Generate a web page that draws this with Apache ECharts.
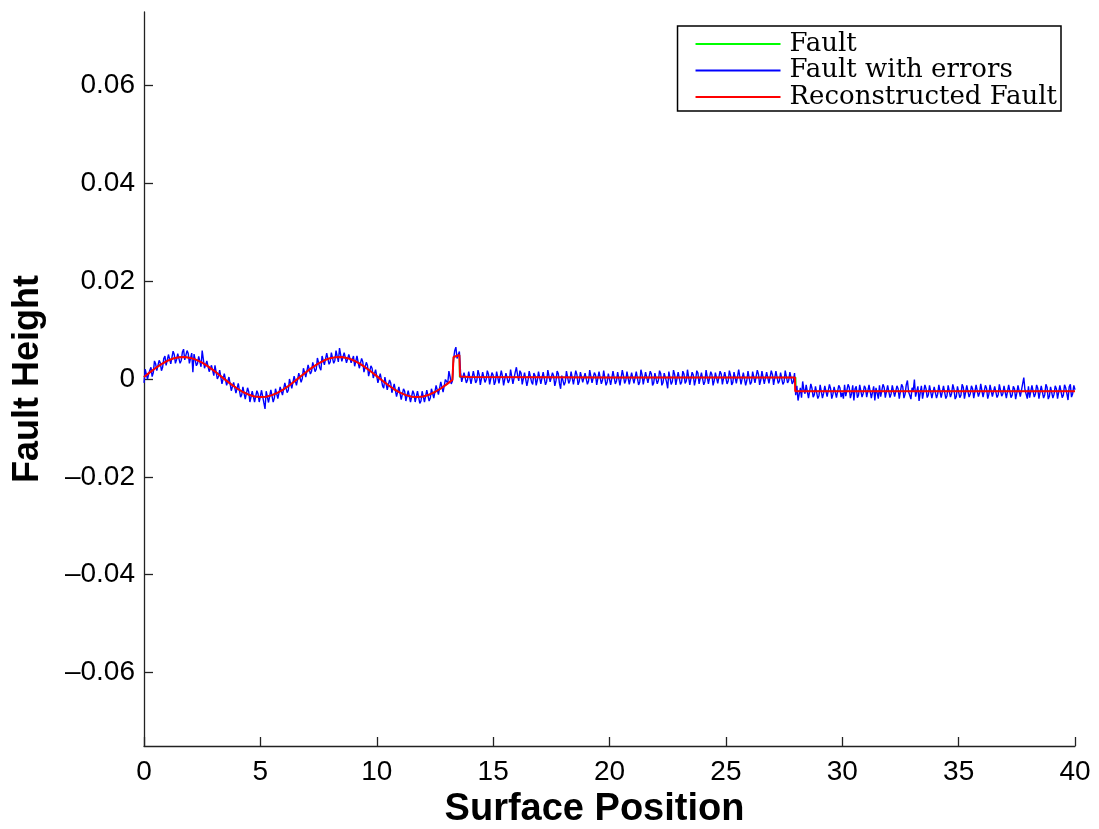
<!DOCTYPE html>
<html><head><meta charset="utf-8">
<script src="https://cdn.jsdelivr.net/npm/echarts@6/dist/echarts.min.js"></script>
<style>html,body{margin:0;padding:0;background:#fff}#c{width:1099px;height:829px}</style>
</head><body><div id="c"></div>
<script>
// y tick labels
const yTickValues = [-0.06, -0.04, -0.02, 0, 0.02, 0.04, 0.06];
// measured signal ("Fault with errors"), sampled every 0.05 along x from 0 to 40
const sampleStep = 0.05;
const faultWithErrors = [
-8e-4,20e-4,23e-4,0,10e-4,18e-4,24e-4,5e-4,13e-4,37e-4,31e-4,17e-4,16e-4,38e-4,33e-4,17e-4,24e-4,42e-4,47e-4,28e-4,
31e-4,50e-4,48e-4,31e-4,30e-4,57e-4,50e-4,32e-4,40e-4,52e-4,56e-4,32e-4,38e-4,55e-4,61e-4,39e-4,40e-4,58e-4,52e-4,32e-4,
33e-4,53e-4,14e-4,51e-4,49e-4,27e-4,32e-4,46e-4,42e-4,25e-4,58e-4,40e-4,22e-4,18e-4,37e-4,38e-4,15e-4,13e-4,28e-4,29e-4,
7e-4,28e-4,26e-4,0,5e-4,18e-4,14e-4,-10e-4,-10e-4,11e-4,8e-4,-13e-4,-13e-4,4e-4,0,-24e-4,-24e-4,-7e-4,-10e-4,-29e-4,
-28e-4,-9e-4,-11e-4,-37e-4,-32e-4,-16e-4,-20e-4,-41e-4,-43e-4,-18e-4,-26e-4,-47e-4,-51e-4,-25e-4,-26e-4,-47e-4,-50e-4,-24e-4,-30e-4,-47e-4,
-46e-4,-23e-4,-27e-4,-49e-4,-61e-4,-25e-4,-28e-4,-48e-4,-45e-4,-22e-4,-22e-4,-47e-4,-39e-4,-20e-4,-20e-4,-40e-4,-38e-4,-16e-4,-17e-4,-33e-4,
-30e-4,-8e-4,-6e-4,-28e-4,-23e-4,0,-1e-4,-19e-4,-19e-4,6e-4,5e-4,-13e-4,-10e-4,12e-4,16e-4,-7e-4,1e-4,22e-4,22e-4,4e-4,
7e-4,29e-4,28e-4,10e-4,16e-4,34e-4,36e-4,15e-4,20e-4,43e-4,40e-4,23e-4,18e-4,47e-4,47e-4,29e-4,32e-4,53e-4,52e-4,30e-4,
35e-4,54e-4,54e-4,32e-4,38e-4,58e-4,54e-4,35e-4,63e-4,59e-4,36e-4,34e-4,54e-4,53e-4,33e-4,31e-4,50e-4,53e-4,33e-4,29e-4,
47e-4,26e-4,27e-4,47e-4,43e-4,22e-4,22e-4,42e-4,35e-4,14e-4,10e-4,34e-4,28e-4,6e-4,5e-4,27e-4,22e-4,2e-4,-1e-4,19e-4,
16e-4,-8e-4,-10e-4,11e-4,7e-4,-14e-4,-19e-4,4e-4,3e-4,-22e-4,-23e-4,-2e-4,-8e-4,-28e-4,-30e-4,-10e-4,-13e-4,-36e-4,-37e-4,-16e-4,
-20e-4,-42e-4,-42e-4,-20e-4,-25e-4,-45e-4,-45e-4,-24e-4,-27e-4,-47e-4,-46e-4,-24e-4,-30e-4,-47e-4,-47e-4,-25e-4,-29e-4,-50e-4,-45e-4,-25e-4,
-28e-4,-47e-4,-45e-4,-23e-4,-24e-4,-45e-4,-39e-4,-20e-4,-19e-4,-39e-4,-35e-4,-13e-4,-13e-4,-32e-4,-29e-4,-6e-4,-6e-4,-27e-4,-24e-4,-1e-4,
0,-9e-4,16e-4,5e-4,-10e-4,-4e-4,40e-4,58e-4,65e-4,42e-4,45e-4,56e-4,14e-4,-6e-4,-5e-4,13e-4,16e-4,-8e-4,-2e-4,15e-4,
12e-4,-10e-4,-6e-4,16e-4,15e-4,-8e-4,-3e-4,18e-4,9e-4,-12e-4,-8e-4,14e-4,13e-4,-7e-4,-1e-4,17e-4,10e-4,-11e-4,-9e-4,13e-4,
8e-4,-12e-4,-5e-4,15e-4,14e-4,-9e-4,-7e-4,17e-4,6e-4,-13e-4,-10e-4,12e-4,11e-4,-8e-4,-2e-4,19e-4,16e-4,-10e-4,-6e-4,14e-4,
24e-4,8e-4,-4e-4,17e-4,12e-4,-11e-4,-8e-4,13e-4,9e-4,-14e-4,-3e-4,16e-4,14e-4,-6e-4,-11e-4,12e-4,7e-4,-13e-4,-2e-4,15e-4,
13e-4,-10e-4,-7e-4,14e-4,10e-4,-12e-4,-5e-4,18e-4,15e-4,-6e-4,-9e-4,13e-4,6e-4,-14e-4,-4e-4,16e-4,11e-4,-9e-4,-20e-4,7e-4,
8e-4,-13e-4,-6e-4,16e-4,12e-4,-9e-4,-3e-4,15e-4,14e-4,-11e-4,-8e-4,17e-4,9e-4,-12e-4,-5e-4,14e-4,13e-4,-7e-4,-9e-4,12e-4,
10e-4,-11e-4,-4e-4,18e-4,16e-4,-8e-4,-7e-4,13e-4,8e-4,-12e-4,-10e-4,15e-4,12e-4,-10e-4,-2e-4,17e-4,15e-4,-13e-4,-6e-4,11e-4,
9e-4,-12e-4,-8e-4,16e-4,13e-4,-10e-4,-4e-4,14e-4,11e-4,-13e-4,-9e-4,18e-4,7e-4,-9e-4,-3e-4,15e-4,14e-4,-11e-4,-7e-4,13e-4,
12e-4,-9e-4,-5e-4,15e-4,17e-4,-12e-4,-6e-4,19e-4,9e-4,-11e-4,-10e-4,14e-4,13e-4,-8e-4,-4e-4,16e-4,10e-4,-13e-4,-8e-4,12e-4,
14e-4,-10e-4,-3e-4,17e-4,11e-4,-13e-4,-7e-4,12e-4,16e-4,-6e-4,-19e-4,15e-4,12e-4,-11e-4,-5e-4,18e-4,9e-4,-12e-4,-8e-4,14e-4,
13e-4,-11e-4,-6e-4,16e-4,10e-4,-9e-4,-4e-4,19e-4,15e-4,-12e-4,-9e-4,14e-4,8e-4,-13e-4,-2e-4,17e-4,12e-4,-10e-4,-7e-4,13e-4,
11e-4,-12e-4,-5e-4,18e-4,14e-4,-10e-4,-8e-4,15e-4,9e-4,-13e-4,-3e-4,13e-4,16e-4,-9e-4,-6e-4,16e-4,10e-4,-11e-4,-9e-4,14e-4,
13e-4,-10e-4,-4e-4,17e-4,8e-4,-12e-4,-7e-4,14e-4,12e-4,-9e-4,-5e-4,19e-4,15e-4,-11e-4,-8e-4,13e-4,9e-4,-13e-4,-3e-4,16e-4,
14e-4,-11e-4,-6e-4,15e-4,11e-4,-8e-4,-9e-4,18e-4,10e-4,-12e-4,-2e-4,16e-4,13e-4,-10e-4,-7e-4,14e-4,12e-4,-9e-4,-5e-4,17e-4,
9e-4,-12e-4,-8e-4,16e-4,15e-4,-9e-4,-4e-4,13e-4,11e-4,-11e-4,-6e-4,17e-4,13e-4,-8e-4,-3e-4,14e-4,10e-4,-10e-4,-5e-4,12e-4,
-33e-4,-14e-4,-44e-4,-31e-4,-18e-4,-38e-4,-5e-4,-22e-4,-30e-4,-12e-4,-14e-4,-39e-4,-36e-4,-10e-4,-19e-4,-37e-4,-32e-4,-15e-4,-12e-4,-40e-4,
-34e-4,-12e-4,-16e-4,-39e-4,-29e-4,-14e-4,-10e-4,-36e-4,-37e-4,-11e-4,-20e-4,-40e-4,-31e-4,-16e-4,-13e-4,-38e-4,-35e-4,-13e-4,-18e-4,-37e-4,
-28e-4,-40e-4,-12e-4,-35e-4,-36e-4,-11e-4,-17e-4,-39e-4,-30e-4,-13e-4,-44e-4,-20e-4,-15e-4,-38e-4,-33e-4,-12e-4,-11e-4,-37e-4,-29e-4,-14e-4,
-19e-4,-37e-4,-35e-4,-12e-4,-14e-4,-39e-4,-38e-4,-15e-4,-44e-4,-18e-4,-21e-4,-40e-4,-13e-4,-36e-4,-32e-4,-11e-4,-17e-4,-38e-4,-36e-4,-13e-4,
-15e-4,-38e-4,-30e-4,-13e-4,-12e-4,-36e-4,-34e-4,-14e-4,-20e-4,-40e-4,-37e-4,-11e-4,-16e-4,-39e-4,-31e-4,-12e-4,-3e-4,-26e-4,-29e-4,-41e-4,
-18e-4,-24e-4,-1e-4,-36e-4,-33e-4,-15e-4,-45e-4,-28e-4,-14e-4,-40e-4,-36e-4,-12e-4,-20e-4,-38e-4,-32e-4,-13e-4,-11e-4,-39e-4,-35e-4,-16e-4,
-19e-4,-39e-4,-31e-4,-12e-4,-13e-4,-38e-4,-37e-4,-14e-4,-16e-4,-40e-4,-34e-4,-13e-4,-10e-4,-37e-4,-29e-4,-11e-4,-21e-4,-41e-4,-36e-4,-15e-4,
-14e-4,-38e-4,-33e-4,-11e-4,-17e-4,-40e-4,-38e-4,-13e-4,-12e-4,-37e-4,-30e-4,-14e-4,-20e-4,-39e-4,-35e-4,-12e-4,-15e-4,-36e-4,-28e-4,-10e-4,
-11e-4,-37e-4,-34e-4,-13e-4,-19e-4,-40e-4,-31e-4,-12e-4,-13e-4,-36e-4,-39e-4,-15e-4,-16e-4,-38e-4,-32e-4,-11e-4,-9e-4,-35e-4,-30e-4,-14e-4,
-18e-4,-39e-4,-36e-4,-12e-4,-14e-4,-38e-4,-33e-4,-15e-4,-20e-4,-41e-4,-29e-4,-13e-4,-12e-4,-36e-4,-37e-4,-10e-4,3e-4,-22e-4,-31e-4,-40e-4,
-15e-4,-38e-4,-34e-4,-13e-4,-10e-4,-37e-4,-30e-4,-12e-4,-19e-4,-40e-4,-38e-4,-14e-4,-13e-4,-39e-4,-32e-4,-11e-4,-17e-4,-41e-4,-35e-4,-16e-4,
-12e-4,-39e-4,-31e-4,-14e-4,-20e-4,-40e-4,-36e-4,-13e-4,-14e-4,-38e-4,-33e-4,-12e-4,-18e-4,-30e-4,-43e-4,-16e-4,-11e-4,-37e-4,-30e-4,-13e-4,
-22e-4
];
// reconstructed fault: [position, height]
const reconstructedFault = [
[0,4e-4],[0.25,13.5e-4],[0.5,22.5e-4],[0.75,30.5e-4],[1,37.1e-4],[1.25,41.8e-4],[1.5,44.4e-4],[1.75,44.9e-4],
[2,43.1e-4],[2.25,39.1e-4],[2.5,33.4e-4],[2.75,25.9e-4],[3,17.2e-4],[3.25,7.8e-4],[3.5,-1.8e-4],[3.75,-11e-4],
[4,-19.4e-4],[4.25,-26.6e-4],[4.5,-32.1e-4],[4.75,-35.6e-4],[5,-37e-4],[5.25,-36.1e-4],[5.5,-33e-4],[5.75,-27.8e-4],
[6,-21e-4],[6.25,-12.8e-4],[6.5,-3.6e-4],[6.75,6e-4],[7,15.4e-4],[7.25,24.2e-4],[7.5,31.9e-4],[7.75,38.2e-4],
[8,42.6e-4],[8.25,44.7e-4],[8.5,44.8e-4],[8.75,42.6e-4],[9,38.3e-4],[9.25,31.9e-4],[9.5,24.1e-4],[9.75,15.3e-4],
[10,5.9e-4],[10.25,-3.6e-4],[10.5,-12.8e-4],[10.75,-21e-4],[11,-27.8e-4],[11.25,-33e-4],[11.5,-36.1e-4],[11.75,-37e-4],
[12,-35.6e-4],[12.25,-32.1e-4],[12.5,-26.6e-4],[12.75,-19.4e-4],[13,-11e-4],[13.25,-1.8e-4],
[13.29,0],[13.3,45e-4],[13.55,49e-4],[13.58,5e-4],[14,4e-4],[20,3e-4],[27.97,3e-4],[27.98,-25e-4],[40,-25e-4]
];
// true fault: [position, height]
const fault = [
[0,4e-4],[0.25,13.5e-4],[0.5,22.5e-4],[0.75,30.5e-4],[1,37.1e-4],[1.25,41.8e-4],[1.5,44.4e-4],[1.75,44.9e-4],
[2,43.1e-4],[2.25,39.1e-4],[2.5,33.4e-4],[2.75,25.9e-4],[3,17.2e-4],[3.25,7.8e-4],[3.5,-1.8e-4],[3.75,-11e-4],
[4,-19.4e-4],[4.25,-26.6e-4],[4.5,-32.1e-4],[4.75,-35.6e-4],[5,-37e-4],[5.25,-36.1e-4],[5.5,-33e-4],[5.75,-27.8e-4],
[6,-21e-4],[6.25,-12.8e-4],[6.5,-3.6e-4],[6.75,6e-4],[7,15.4e-4],[7.25,24.2e-4],[7.5,31.9e-4],[7.75,38.2e-4],
[8,42.6e-4],[8.25,44.7e-4],[8.5,44.8e-4],[8.75,42.6e-4],[9,38.3e-4],[9.25,31.9e-4],[9.5,24.1e-4],[9.75,15.3e-4],
[10,5.9e-4],[10.25,-3.6e-4],[10.5,-12.8e-4],[10.75,-21e-4],[11,-27.8e-4],[11.25,-33e-4],[11.5,-36.1e-4],[11.75,-37e-4],
[12,-35.6e-4],[12.25,-32.1e-4],[12.5,-26.6e-4],[12.75,-19.4e-4],[13,-11e-4],[13.25,-1.8e-4],
[13.29,0],[13.3,45e-4],[13.55,49e-4],[13.56,4e-4],[20,3e-4],[28,3e-4],[28.01,-25e-4],[40,-25e-4]
];

const blueData = faultWithErrors.map((v, i) => [i * sampleStep, v]);
const fmtY = v => {
  if (Math.abs(v) < 1e-9) return '0';
  return (v < 0 ? '\u2013' : '') + Math.abs(v).toFixed(2);
};
const chart = echarts.init(document.getElementById('c'), null, {renderer: 'canvas'});
const axisColor = '#222';
chart.setOption({
  animation: false,
  backgroundColor: '#fff',
  grid: {left: 144, right: 24, top: 12, bottom: 83, containLabel: false, outerBoundsMode: 'none'},
  legend: {
    orient: 'vertical',
    right: 38, top: 26,
    padding: [5, 4, 1, 18],
    itemGap: 0.5,
    itemWidth: 85,
    itemHeight: 2,
    icon: 'rect',
    backgroundColor: '#fff',
    borderColor: '#000',
    borderWidth: 1.5,
    borderRadius: 0,
    textStyle: {fontFamily: 'DejaVu Serif', fontSize: 26, color: '#000', padding: [0, 0, 0, 4]},
    data: ['Fault', 'Fault with errors', 'Reconstructed Fault']
  },
  xAxis: {
    type: 'value', min: 0, max: 40, interval: 5,
    name: 'Surface Position', nameLocation: 'middle', nameGap: 44,
    nameTextStyle: {fontFamily: 'Liberation Sans', fontWeight: 'bold', fontSize: 38, color: '#000', padding: [0, 30, 0, 0]},
    axisLine: {onZero: false, lineStyle: {color: axisColor, width: 1.3}},
    axisTick: {inside: true, length: 9, lineStyle: {color: axisColor, width: 1.3}},
    axisLabel: {fontFamily: 'Liberation Sans', fontSize: 28, color: '#000', margin: 12},
    splitLine: {show: false}
  },
  yAxis: {
    type: 'value', min: -0.075, max: 0.075,
    name: 'Fault Height', nameLocation: 'middle', nameGap: 98, nameRotate: 90,
    nameTextStyle: {fontFamily: 'Liberation Sans', fontWeight: 'bold', fontSize: 36, color: '#000'},
    axisLine: {show: true, onZero: false, lineStyle: {color: axisColor, width: 1.3}},
    axisTick: {show: true, inside: true, length: 9, customValues: yTickValues, lineStyle: {color: axisColor, width: 1.3}},
    axisLabel: {fontFamily: 'Liberation Sans', fontSize: 28, color: '#000', margin: 9, customValues: yTickValues, formatter: fmtY},
    splitLine: {show: false}
  },
  series: [
    {name: 'Fault', type: 'line', data: fault, symbol: 'none', color: '#00ff00', lineStyle: {width: 1.5, color: '#00ff00'}, z: 2},
    {name: 'Fault with errors', type: 'line', data: blueData, symbol: 'none', sampling: null, color: '#0000ff', lineStyle: {width: 1.4, color: '#0000ff'}, z: 3},
    {name: 'Reconstructed Fault', type: 'line', data: reconstructedFault, symbol: 'none', color: '#ff0000', lineStyle: {width: 2, color: '#ff0000'}, z: 4}
  ]
});
</script></body></html>
